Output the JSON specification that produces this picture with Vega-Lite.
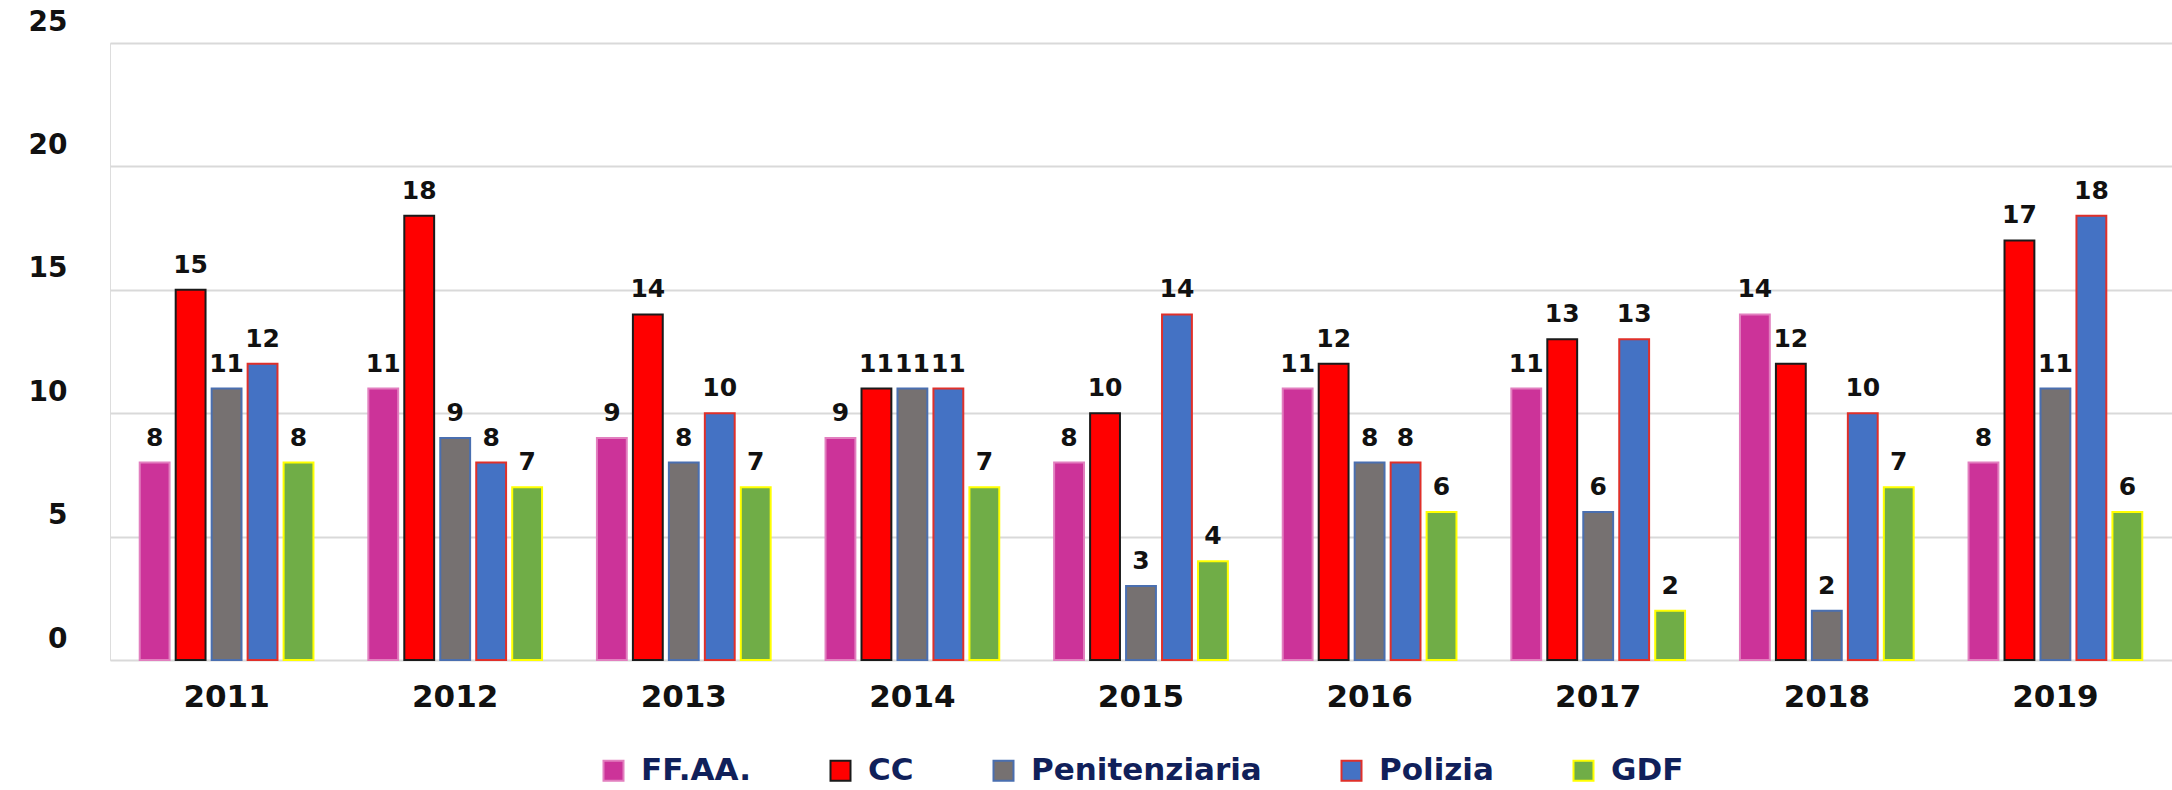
{
  "$schema": "https://vega.github.io/schema/vega-lite/v6.json",
  "autosize": "none",
  "width": 2062,
  "height": 617,
  "padding": {"left": 110, "top": 43, "right": 0, "bottom": 130},
  "background": "white",
  "data": {
    "values": [
      {"year": "2011", "series": "FF.AA.", "value": 8},
      {"year": "2011", "series": "CC", "value": 15},
      {"year": "2011", "series": "Penitenziaria", "value": 11},
      {"year": "2011", "series": "Polizia", "value": 12},
      {"year": "2011", "series": "GDF", "value": 8},
      {"year": "2012", "series": "FF.AA.", "value": 11},
      {"year": "2012", "series": "CC", "value": 18},
      {"year": "2012", "series": "Penitenziaria", "value": 9},
      {"year": "2012", "series": "Polizia", "value": 8},
      {"year": "2012", "series": "GDF", "value": 7},
      {"year": "2013", "series": "FF.AA.", "value": 9},
      {"year": "2013", "series": "CC", "value": 14},
      {"year": "2013", "series": "Penitenziaria", "value": 8},
      {"year": "2013", "series": "Polizia", "value": 10},
      {"year": "2013", "series": "GDF", "value": 7},
      {"year": "2014", "series": "FF.AA.", "value": 9},
      {"year": "2014", "series": "CC", "value": 11},
      {"year": "2014", "series": "Penitenziaria", "value": 11},
      {"year": "2014", "series": "Polizia", "value": 11},
      {"year": "2014", "series": "GDF", "value": 7},
      {"year": "2015", "series": "FF.AA.", "value": 8},
      {"year": "2015", "series": "CC", "value": 10},
      {"year": "2015", "series": "Penitenziaria", "value": 3},
      {"year": "2015", "series": "Polizia", "value": 14},
      {"year": "2015", "series": "GDF", "value": 4},
      {"year": "2016", "series": "FF.AA.", "value": 11},
      {"year": "2016", "series": "CC", "value": 12},
      {"year": "2016", "series": "Penitenziaria", "value": 8},
      {"year": "2016", "series": "Polizia", "value": 8},
      {"year": "2016", "series": "GDF", "value": 6},
      {"year": "2017", "series": "FF.AA.", "value": 11},
      {"year": "2017", "series": "CC", "value": 13},
      {"year": "2017", "series": "Penitenziaria", "value": 6},
      {"year": "2017", "series": "Polizia", "value": 13},
      {"year": "2017", "series": "GDF", "value": 2},
      {"year": "2018", "series": "FF.AA.", "value": 14},
      {"year": "2018", "series": "CC", "value": 12},
      {"year": "2018", "series": "Penitenziaria", "value": 2},
      {"year": "2018", "series": "Polizia", "value": 10},
      {"year": "2018", "series": "GDF", "value": 7},
      {"year": "2019", "series": "FF.AA.", "value": 8},
      {"year": "2019", "series": "CC", "value": 17},
      {"year": "2019", "series": "Penitenziaria", "value": 11},
      {"year": "2019", "series": "Polizia", "value": 18},
      {"year": "2019", "series": "GDF", "value": 6}
    ]
  },
  "encoding": {
    "x": {
      "field": "year", "type": "nominal", "title": null,
      "scale": {"paddingInner": 0.24, "paddingOuter": 0.13},
      "axis": {
        "labelAngle": 0, "domain": false, "ticks": false,
        "labelFont": "DejaVu Sans", "labelFontWeight": "bold", "labelFontSize": 31,
        "labelColor": "#111111", "labelPadding": 22
      }
    },
    "xOffset": {
      "field": "series", "type": "nominal",
      "sort": ["FF.AA.", "CC", "Penitenziaria", "Polizia", "GDF"],
      "scale": {"paddingInner": 0.17, "paddingOuter": 0}
    },
    "y": {
      "field": "value", "type": "quantitative", "title": null,
      "scale": {"domain": [0, 25], "nice": false},
      "axis": {
        "values": [0, 5, 10, 15, 20, 25], "domain": false, "ticks": false,
        "gridColor": "#d9d9d9", "gridWidth": 2,
        "labelFont": "DejaVu Sans", "labelFontWeight": "bold", "labelFontSize": 28,
        "labelColor": "#111111", "labelPadding": 43, "labelOffset": -21,
        "labelFlush": false, "labelOverlap": false
      }
    }
  },
  "layer": [
    {
      "mark": {"type": "bar", "strokeWidth": 2},
      "encoding": {
        "fill": {
          "field": "series", "type": "nominal",
          "scale": {
            "domain": ["FF.AA.", "CC", "Penitenziaria", "Polizia", "GDF"],
            "range": ["#cc3399", "#ff0000", "#767171", "#4472c4", "#70ad47"]
          },
          "legend": {
            "orient": "none", "legendX": 488, "legendY": 712,
            "direction": "horizontal", "title": null,
            "symbolType": "square", "symbolSize": 400, "symbolStrokeWidth": 2,
            "labelFont": "DejaVu Sans", "labelFontWeight": "bold",
            "labelFontSize": 31, "labelColor": "#10205a", "labelLimit": 500,
            "labelOffset": 12, "columnPadding": 74
          }
        },
        "stroke": {
          "field": "series", "type": "nominal",
          "scale": {
            "domain": ["FF.AA.", "CC", "Penitenziaria", "Polizia", "GDF"],
            "range": ["#e27fbf", "#1a1a1a", "#4a6fb0", "#e0302a", "#ffff00"]
          },
          "legend": {
            "orient": "none", "legendX": 488, "legendY": 712,
            "direction": "horizontal", "title": null,
            "symbolType": "square", "symbolSize": 400, "symbolStrokeWidth": 2,
            "labelFont": "DejaVu Sans", "labelFontWeight": "bold",
            "labelFontSize": 31, "labelColor": "#10205a", "labelLimit": 500,
            "labelOffset": 12, "columnPadding": 74
          }
        }
      }
    },
    {
      "mark": {
        "type": "text", "baseline": "alphabetic", "dy": -17,
        "font": "DejaVu Sans", "fontWeight": "bold", "fontSize": 25, "color": "#111111"
      },
      "encoding": {
        "text": {"field": "value", "type": "quantitative"}
      }
    }
  ]
}
